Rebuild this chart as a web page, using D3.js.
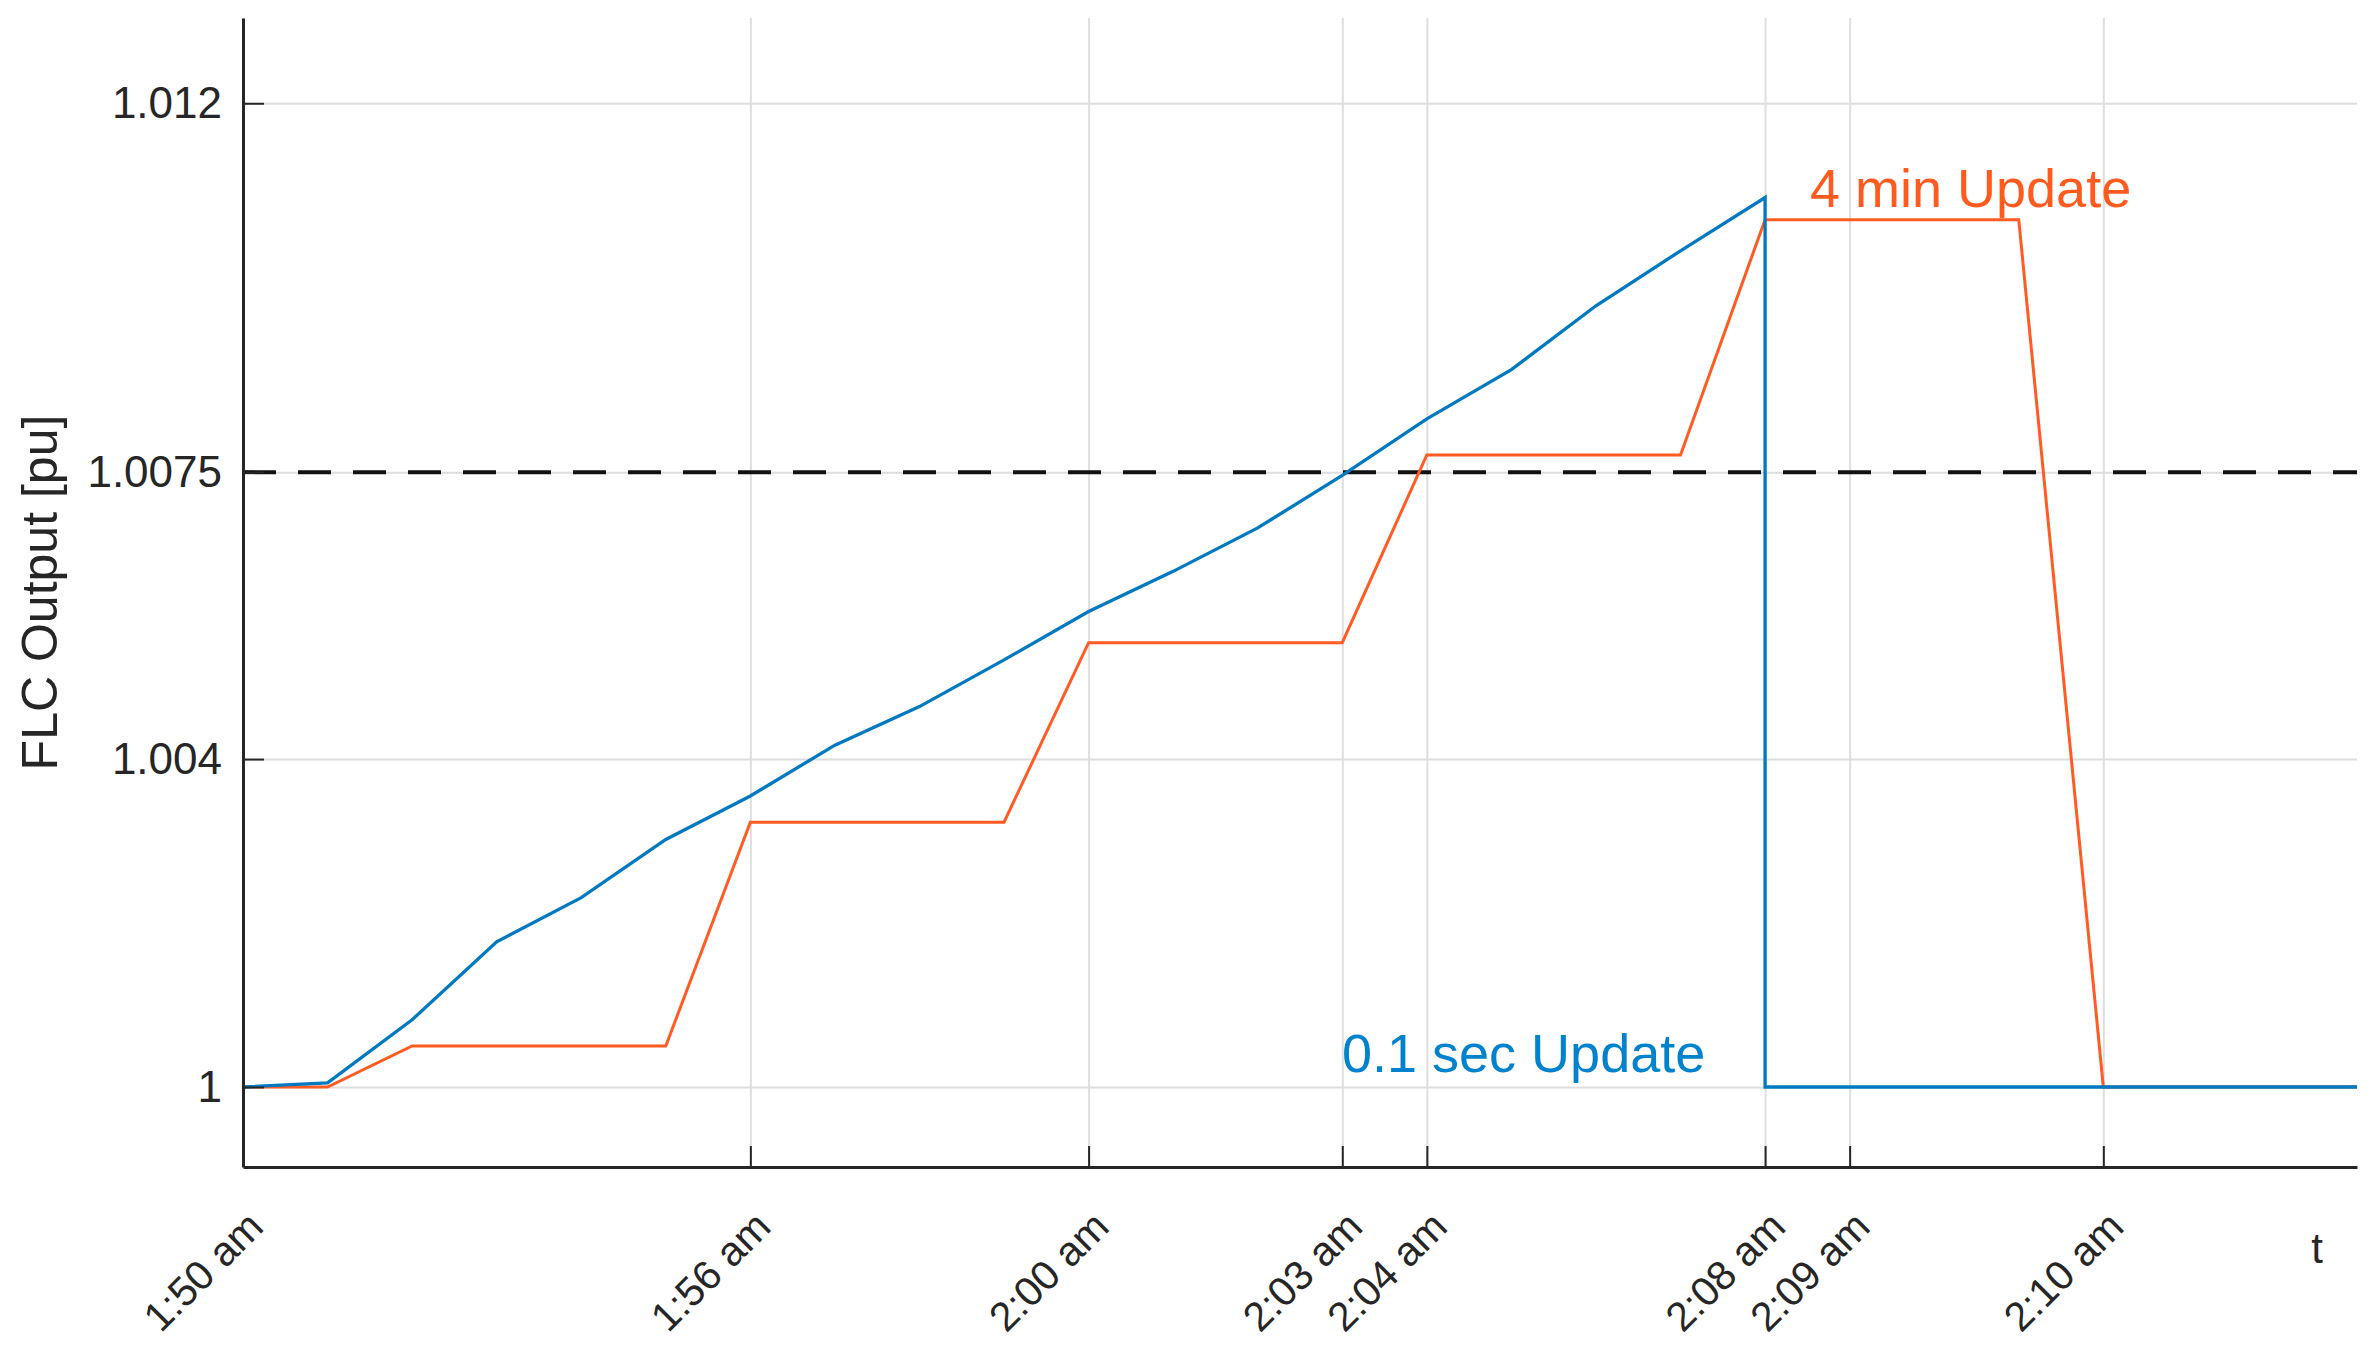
<!DOCTYPE html>
<html lang="en">
<head>
  <meta charset="UTF-8">
  <script src="https://d3js.org/d3.v7.min.js"></script>
  <title>FLC Output</title>
  <style>
    body { margin: 0; background: #fff; }
    text { font-family: Arial, "Liberation Sans", sans-serif; }
  </style>
</head>
<body>
  <script>
    // x is minutes after 1:50 am
    const blueT = [0, 1, 2, 3, 4, 5, 6, 7, 8, 9, 10, 11, 12, 13, 14, 15, 16, 17, 18, 18, 25]
    const blueV = [1.0, 1.00005, 1.00082, 1.00177, 1.00231, 1.00302, 1.00355, 1.00417, 1.00464,
                   1.00521, 1.00580, 1.00629, 1.00682, 1.00746, 1.00815, 1.00875, 1.00953,
                   1.01020, 1.01085, 1.0, 1.0]

    const orangeT = [0, 1, 2, 5, 6, 9, 10, 13, 14, 17, 18, 21, 22, 25]
    const orangeV = [1.0, 1.0, 1.0005, 1.0005, 1.00323, 1.00323, 1.00542, 1.00542,
                     1.00771, 1.00771, 1.01058, 1.01058, 1.0, 1.0]

    const xTickVals = [0, 6, 10, 13, 14, 18, 19, 22]
    const xTickLabels = ["1:50 am", "1:56 am", "2:00 am", "2:03 am", "2:04 am", "2:08 am", "2:09 am", "2:10 am"]
    const yTickVals = [1, 1.004, 1.0075, 1.012]
    const yTickLabels = ["1", "1.004", "1.0075", "1.012"]
    const limitValue = 1.0075

    let dimension = {
      width: 2370,
      height: 1350,
      margin: { top: 18, right: 13, bottom: 183, left: 243 }
    }
    dimension.boundedWidth = dimension.width - dimension.margin.left - dimension.margin.right
    dimension.boundedHeight = dimension.height - dimension.margin.top - dimension.margin.bottom

    const svg = d3.select("body")
        .append("svg")
        .attr("width", dimension.width)
        .attr("height", dimension.height)

    const bounds = svg.append("g")
        .attr("transform", `translate(${dimension.margin.left}, ${dimension.margin.top})`)

    const xScale = d3.scaleLinear()
        .domain([0, 25])
        .range([0, dimension.boundedWidth])

    const yScale = d3.scaleLinear()
        .domain([0.999024, 1.01304])
        .range([dimension.boundedHeight, 0])

    // grid
    bounds.append("g")
        .call(d3.axisBottom(xScale).tickValues(xTickVals).tickSize(dimension.boundedHeight).tickFormat(""))
        .call(g => g.select(".domain").remove())
        .call(g => g.selectAll("line").attr("stroke", "#dedede").attr("stroke-width", 2))

    bounds.append("g")
        .call(d3.axisLeft(yScale).tickValues(yTickVals).tickSize(-dimension.boundedWidth).tickFormat(""))
        .call(g => g.select(".domain").remove())
        .call(g => g.selectAll("line").attr("stroke", "#dedede").attr("stroke-width", 2))

    // threshold line
    bounds.append("line")
        .attr("x1", 0)
        .attr("x2", dimension.boundedWidth)
        .attr("y1", yScale(limitValue))
        .attr("y2", yScale(limitValue))
        .attr("stroke", "#111")
        .attr("stroke-width", 4)
        .attr("stroke-dasharray", "33,22")

    const lineGenerator = d3.line()
        .x(d => xScale(d[0]))
        .y(d => yScale(d[1]))

    bounds.append("path")
        .attr("d", lineGenerator(d3.zip(orangeT, orangeV)))
        .attr("fill", "none")
        .attr("stroke", "#ff5b23")
        .attr("stroke-width", 3)

    bounds.append("path")
        .attr("d", lineGenerator(d3.zip(blueT, blueV)))
        .attr("fill", "none")
        .attr("stroke", "#0079c1")
        .attr("stroke-width", 3.3)

    // axes
    const xAxis = bounds.append("g")
        .attr("transform", `translate(0, ${dimension.boundedHeight})`)
        .call(d3.axisBottom(xScale)
          .tickValues(xTickVals)
          .tickFormat((d, i) => xTickLabels[i])
          .tickSizeInner(-21)
          .tickSizeOuter(0))

    xAxis.select(".domain").attr("stroke", "#262626").attr("stroke-width", 3)
    xAxis.selectAll(".tick line").attr("stroke", "#262626").attr("stroke-width", 2)
    xAxis.selectAll(".tick text")
        .attr("x", 0).attr("y", 0).attr("dy", 0)
        .attr("text-anchor", "end")
        .attr("transform", "translate(22, 62) rotate(-45)")
        .attr("font-size", 41)
        .attr("fill", "#262626")

    const yAxis = bounds.append("g")
        .call(d3.axisLeft(yScale)
          .tickValues(yTickVals)
          .tickFormat((d, i) => yTickLabels[i])
          .tickSizeInner(-21)
          .tickSizeOuter(0)
          .tickPadding(21))

    yAxis.select(".domain").attr("stroke", "#262626").attr("stroke-width", 3)
    yAxis.selectAll(".tick line").attr("stroke", "#262626").attr("stroke-width", 2)
    yAxis.selectAll(".tick text")
        .attr("font-size", 44)
        .attr("fill", "#262626")

    svg.append("text")
        .attr("transform", `translate(57, ${dimension.margin.top + dimension.boundedHeight / 2}) rotate(-90)`)
        .attr("text-anchor", "middle")
        .attr("font-size", 50)
        .attr("fill", "#262626")
        .text("FLC Output [pu]")

    svg.append("text")
        .attr("x", 2317)
        .attr("y", 1263)
        .attr("text-anchor", "middle")
        .attr("font-size", 42)
        .attr("fill", "#262626")
        .text("t")

    // annotations
    bounds.append("text")
        .attr("x", 1810 - dimension.margin.left)
        .attr("y", 207 - dimension.margin.top)
        .attr("font-size", 54)
        .attr("fill", "#ff5b1f")
        .text("4 min Update")

    bounds.append("text")
        .attr("x", 1342 - dimension.margin.left)
        .attr("y", 1072 - dimension.margin.top)
        .attr("font-size", 54)
        .attr("fill", "#0082cc")
        .text("0.1 sec Update")
  </script>
</body>
</html>
